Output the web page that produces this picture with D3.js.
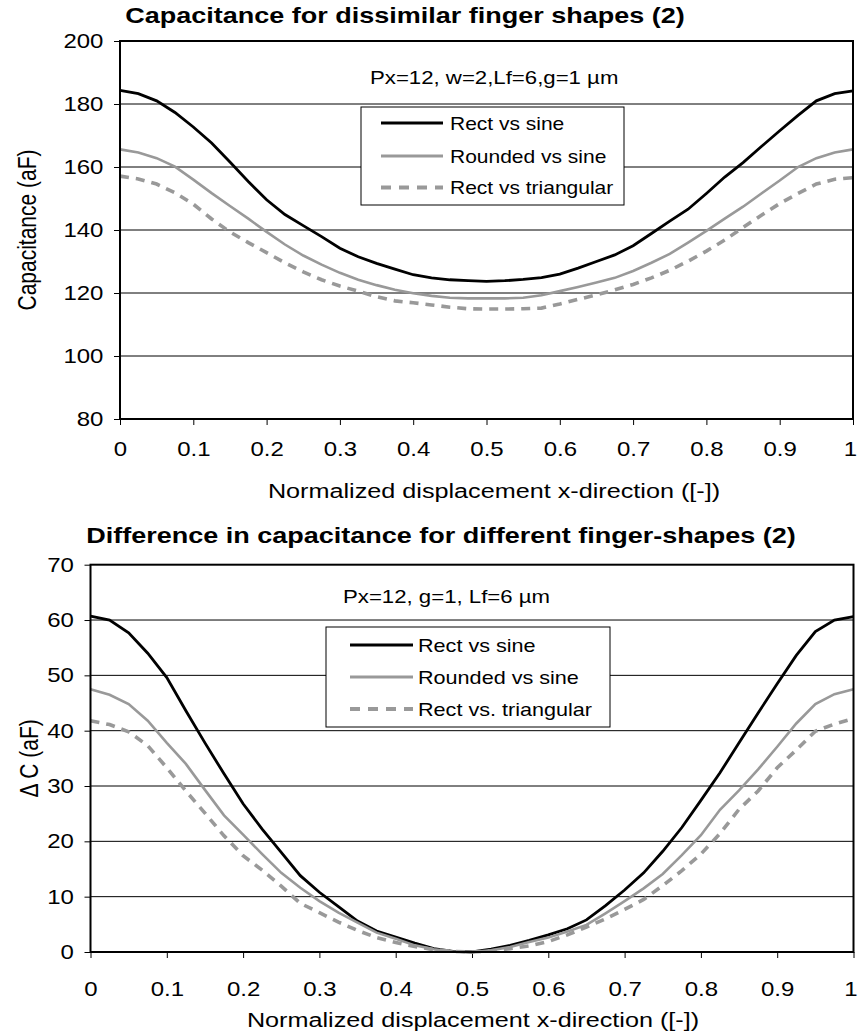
<!DOCTYPE html>
<html>
<head>
<meta charset="utf-8">
<script src="https://cdnjs.cloudflare.com/ajax/libs/d3/7.8.5/d3.min.js"></script>
<style>
  body { margin: 0; background: #fff; }
  svg text { font-family: "Liberation Sans", Arial, sans-serif; fill: #000; }
</style>
</head>
<body>
<div id="chart"></div>
<script>
// normalized displacement, shared by both panels
const xPos = [0, 0.025, 0.05, 0.075, 0.1, 0.125, 0.15, 0.175, 0.2, 0.225, 0.25, 0.275, 0.3, 0.325, 0.35, 0.375, 0.4,
  0.425, 0.45, 0.475, 0.5, 0.525, 0.55, 0.575, 0.6, 0.625, 0.65, 0.675, 0.7, 0.725, 0.75, 0.775, 0.8, 0.825, 0.85,
  0.875, 0.9, 0.925, 0.95, 0.975, 1];

// top panel: capacitance (aF)
const topRectSine = [184.3, 183.3, 181.0, 177.3, 172.7, 167.6, 161.6, 155.4, 149.6, 144.9, 141.4, 137.9, 134.2, 131.5,
  129.4, 127.6, 125.8, 124.8, 124.2, 123.9, 123.7, 123.9, 124.3, 124.9, 126.0, 127.9, 130.0, 132.1, 135.0, 138.9,
  142.8, 146.6, 151.6, 156.8, 161.4, 166.5, 171.5, 176.4, 181.0, 183.3, 184.2];
const topRoundedSine = [165.6, 164.6, 162.8, 160.1, 156.0, 151.7, 147.6, 143.6, 139.4, 135.4, 131.9, 129.0, 126.4,
  124.2, 122.5, 121.0, 119.9, 119.1, 118.5, 118.3, 118.3, 118.3, 118.5, 119.3, 120.6, 121.9, 123.3, 124.8, 127.0,
  129.6, 132.4, 136.0, 139.7, 143.6, 147.4, 151.6, 155.7, 160.0, 162.8, 164.6, 165.6];
const topRectTri = [157.1, 156.2, 154.6, 151.8, 148.2, 143.5, 139.4, 136.0, 132.8, 129.6, 126.7, 124.2, 122.2, 120.6,
  118.8, 117.5, 116.9, 116.2, 115.5, 115.0, 114.9, 114.9, 115.0, 115.2, 116.5, 118.0, 119.4, 121.0, 122.7, 124.8,
  127.2, 130.1, 133.3, 136.8, 140.8, 144.7, 148.4, 151.6, 154.6, 156.1, 156.6];

// bottom panel: difference in capacitance (aF)
const botRectSine = [60.7, 60.0, 57.7, 54.0, 49.6, 43.6, 37.8, 32.2, 26.8, 22.2, 18.0, 13.8, 10.8, 8.2, 5.6, 3.8, 2.7,
  1.6, 0.6, 0.1, 0, 0.5, 1.2, 2.1, 3.1, 4.2, 5.8, 8.4, 11.2, 14.3, 18.2, 22.5, 27.4, 32.4, 37.8, 43.2, 48.5, 53.6,
  57.9, 60.0, 60.6];
const botRoundedSine = [47.5, 46.5, 44.8, 41.8, 37.8, 34.0, 29.3, 24.7, 21.2, 17.7, 14.3, 11.6, 9.2, 7.1, 5.3, 3.5,
  2.4, 1.2, 0.5, 0.1, 0, 0.3, 0.9, 1.8, 2.6, 3.7, 4.9, 7.0, 9.2, 11.5, 14.1, 17.5, 21.1, 25.7, 29.2, 33.0, 37.1,
  41.3, 44.8, 46.6, 47.5];
const botRectTri = [41.8, 41.1, 39.8, 37.3, 33.3, 29.1, 25.1, 21.0, 17.4, 14.8, 11.9, 8.8, 7.1, 5.4, 3.9, 2.6, 1.7,
  1.0, 0.4, 0.1, 0, 0.2, 0.6, 1.1, 1.9, 3.1, 4.5, 6.0, 7.7, 9.5, 12.0, 14.7, 17.7, 21.4, 25.8, 29.1, 33.3, 36.5,
  39.9, 41.2, 42.2];

const xTicks = [0, 0.1, 0.2, 0.3, 0.4, 0.5, 0.6, 0.7, 0.8, 0.9, 1];
const topYTicks = [80, 100, 120, 140, 160, 180, 200];
const botYTicks = [0, 10, 20, 30, 40, 50, 60, 70];
const topLegend = ['Rect vs sine', 'Rounded vs sine', 'Rect vs triangular'];
const botLegend = ['Rect vs sine', 'Rounded vs sine', 'Rect vs. triangular'];

// the source picture is stretched sideways, so all text gets the same squeeze
const SX = 1.2;

const svg = d3.select('#chart')
    .append('svg')
    .attr('width', 859)
    .attr('height', 1034);

const lineStyles = [
    { stroke: '#000', width: 2.8, dash: null },
    { stroke: '#999', width: 2.6, dash: null },
    { stroke: '#999', width: 3.6, dash: '9,7' }
];

function addText(g, x, y, str, size, anchor, weight) {
    return g.append('text')
        .attr('transform', `translate(${x},${y}) scale(${SX},1)`)
        .attr('text-anchor', anchor || 'start')
        .style('font-size', size + 'px')
        .style('font-weight', weight || 'normal')
        .text(str);
}

function drawPanel(cfg) {
    const g = svg.append('g');
    const xScale = d3.scaleLinear().domain([0, 1]).range([cfg.left, cfg.right]);
    const yScale = d3.scaleLinear().domain(cfg.yDomain).range([cfg.bottom, cfg.top]);

    // gridlines
    g.selectAll('.grid')
        .data(cfg.yTicks.slice(1, -1))
        .enter()
        .append('line')
        .attr('x1', cfg.left)
        .attr('x2', cfg.right)
        .attr('y1', d => yScale(d))
        .attr('y2', d => yScale(d))
        .attr('stroke', '#000')
        .attr('stroke-width', 1);

    // axes (ticks + labels only, frame drawn below)
    const yAxis = g.append('g')
        .attr('transform', `translate(${cfg.left},0)`)
        .call(d3.axisLeft(yScale).tickValues(cfg.yTicks).tickSize(6).tickPadding(7.8));
    yAxis.select('.domain').remove();
    yAxis.selectAll('text')
        .attr('transform', `scale(${SX},1)`)
        .style('font-size', '20px')
        .attr('font-family', null);

    const xAxis = g.append('g')
        .attr('transform', `translate(0,${cfg.bottom})`)
        .call(d3.axisBottom(xScale).tickValues(xTicks).tickSize(6).tickPadding(cfg.xPad)
            .tickFormat(d3.format('~g')));
    xAxis.select('.domain').remove();
    xAxis.selectAll('text')
        .attr('transform', `scale(${SX},1)`)
        .style('font-size', '20px')
        .attr('font-family', null)
        .attr('dx', d => d === 1 ? -2.5 : 0);
    g.selectAll('.tick line').attr('stroke', '#000');

    // series
    const series = [cfg.s1, cfg.s2, cfg.s3];
    const line = d3.line()
        .x((d, i) => xScale(xPos[i]))
        .y(d => yScale(d));
    series.forEach((s, k) => {
        g.append('path')
            .datum(s)
            .attr('d', line)
            .attr('fill', 'none')
            .attr('stroke', lineStyles[k].stroke)
            .attr('stroke-width', lineStyles[k].width)
            .attr('stroke-dasharray', lineStyles[k].dash);
    });

    // plot frame
    g.append('rect')
        .attr('x', cfg.left)
        .attr('y', cfg.top)
        .attr('width', cfg.right - cfg.left)
        .attr('height', cfg.bottom - cfg.top)
        .attr('fill', 'none')
        .attr('stroke', '#000')
        .attr('stroke-width', 2);

    // annotation
    addText(g, cfg.noteX, cfg.noteY, cfg.note, 18.5, 'start');

    // legend
    const lg = cfg.legend;
    g.append('rect')
        .attr('x', lg.x)
        .attr('y', lg.y)
        .attr('width', lg.w)
        .attr('height', lg.h)
        .attr('fill', '#fff')
        .attr('stroke', '#000')
        .attr('stroke-width', 1);
    cfg.legendLabels.forEach((name, k) => {
        const ry = lg.rows[k];
        g.append('line')
            .attr('x1', lg.lineX1)
            .attr('x2', lg.lineX2)
            .attr('y1', ry)
            .attr('y2', ry)
            .attr('stroke', lineStyles[k].stroke)
            .attr('stroke-width', lineStyles[k].dash ? 4 : 3)
            .attr('stroke-dasharray', lineStyles[k].dash ? '10,8' : null);
        addText(g, lg.textX, ry + 6.5, name, lg.size, 'start');
    });

    // titles
    addText(g, cfg.titleX, cfg.titleY, cfg.title, 22.5, 'middle', 'bold');
    addText(g, cfg.xTitleX, cfg.xTitleY, 'Normalized displacement x-direction ([-])', 21, 'middle');
    g.append('text')
        .attr('transform', `translate(${cfg.yTitleX},${(cfg.top + cfg.bottom) / 2}) rotate(-90) scale(1,${SX})`)
        .attr('text-anchor', 'middle')
        .style('font-size', '21px')
        .text(cfg.yTitle);
}

drawPanel({
    left: 120, right: 853, top: 41, bottom: 419,
    yDomain: [80, 200], yTicks: topYTicks, xPad: 17,
    s1: topRectSine, s2: topRoundedSine, s3: topRectTri,
    title: 'Capacitance for dissimilar finger shapes (2)', titleX: 405, titleY: 23,
    xTitleX: 494, xTitleY: 498, yTitle: 'Capacitance (aF)', yTitleX: 36,
    note: 'Px=12, w=2,Lf=6,g=1 \u00b5m', noteX: 370, noteY: 84,
    legendLabels: topLegend,
    legend: { x: 361, y: 107, w: 263, h: 98, lineX1: 381, lineX2: 443, textX: 450, rows: [123, 156, 187.5], size: 17.5 }
});

drawPanel({
    left: 90.5, right: 853.5, top: 564.7, bottom: 952,
    yDomain: [0, 70], yTicks: botYTicks, xPad: 24,
    s1: botRectSine, s2: botRoundedSine, s3: botRectTri,
    title: 'Difference in capacitance for different finger-shapes (2)', titleX: 441, titleY: 543,
    xTitleX: 473, xTitleY: 1027, yTitle: '\u0394 C (aF)', yTitleX: 38,
    note: 'Px=12, g=1, Lf=6 \u00b5m', noteX: 343, noteY: 603,
    legendLabels: botLegend,
    legend: { x: 326, y: 627, w: 284, h: 100, lineX1: 350, lineX2: 413, textX: 418, rows: [645, 677, 709], size: 18 }
});
</script>
</body>
</html>
